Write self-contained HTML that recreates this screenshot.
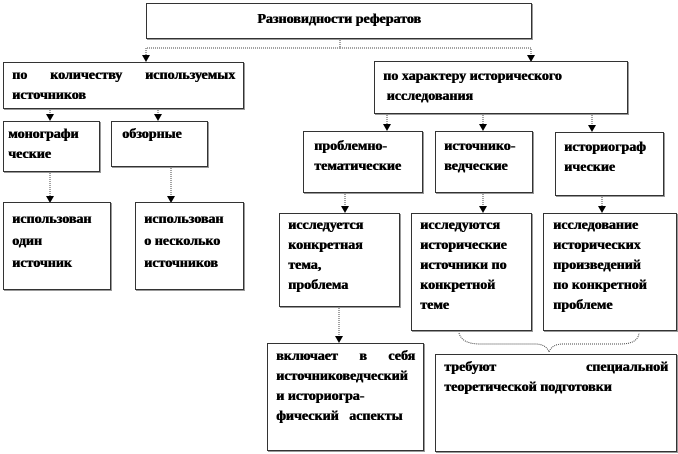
<!DOCTYPE html>
<html><head><meta charset="utf-8"><style>
body{margin:0;width:678px;height:454px;background:#fff;position:relative;overflow:hidden;font-family:"Liberation Serif","DejaVu Serif",serif;font-weight:bold;font-size:14px;color:#000}
.b{position:absolute;box-sizing:border-box;border:1px solid #333;background:#fff;box-shadow:1px 1px 0 #999;padding:6px 8px;line-height:20px;text-shadow:0.6px 0 0 #000;white-space:nowrap}
.j{text-align:justify;text-align-last:left}
.sp{display:flex;justify-content:space-between}
svg{position:absolute;left:0;top:0}
</style></head><body>
<svg width="678" height="454">
<g stroke="#444" stroke-width="1" stroke-dasharray="1,1" fill="none">
<path d="M340 38 V48 H146 V58 M340 48 H531 V58"/>
<path d="M50 108 V116 M158 108 V116"/>
<path d="M50 171 V198 M171 166 V198"/>
<path d="M387 113 V126 M483 113 V126 M592 113 V127"/>
<path d="M345 192 V208 M483 192 V208 M602 195 V208"/>
<path d="M339 306 V338"/>
<path d="M459 333 Q462 344 480 344 L535 344 Q546 344 549 352 Q552 344 563 344 L620 344 Q638 344 639 333"/>
</g>
<g fill="#000">
<path d="M142 55 h8 l-4 7z M527 55 h8 l-4 7z"/>
<path d="M46 114 h8 l-4 7z M154 114 h8 l-4 7z"/>
<path d="M46 196 h8 l-4 7z M167 196 h8 l-4 7z"/>
<path d="M383 124 h8 l-4 7z M479 124 h8 l-4 7z M588 125 h8 l-4 7z"/>
<path d="M341 206 h8 l-4 7z M479 206 h8 l-4 7z M598 206 h8 l-4 7z"/>
<path d="M335 336 h8 l-4 7z"/>
</g>
</svg>
<div class="b" style="left:146px;top:3px;width:386px;height:36px;text-align:center;padding-top:6px">Разновидности рефератов</div>
<div class="b" style="left:3px;top:62px;width:241px;height:47px;padding-top:3px"><div class="sp"><span>по</span><span>количеству</span><span>используемых</span></div>источников</div>
<div class="b" style="left:374px;top:61px;width:254px;height:53px;padding-top:5px">по характеру исторического<br>&nbsp;исследования</div>
<div class="b" style="left:3px;top:121px;width:97px;height:51px;padding:3px 4px">монографи<br>ческие</div>
<div class="b" style="left:111px;top:121px;width:97px;height:46px;padding:3px 10px">обзорные</div>
<div class="b" style="left:3px;top:202px;width:108px;height:88px;padding:6px 8px;line-height:22px">использован<br>один<br>источник</div>
<div class="b" style="left:135px;top:202px;width:109px;height:88px;padding:6px 8px;line-height:22px">использован<br>о несколько<br>источников</div>
<div class="b" style="left:303px;top:131px;width:120px;height:62px;padding:5px 10px">проблемно-<br>тематические</div>
<div class="b" style="left:435px;top:131px;width:98px;height:62px;padding:5px 8px">источнико-<br>ведческие</div>
<div class="b" style="left:555px;top:132px;width:109px;height:64px;padding:5px 8px">историограф<br>ические</div>
<div class="b" style="left:279px;top:213px;width:121px;height:94px;padding:2px 8px">исследуется<br>конкретная<br>тема,<br>проблема</div>
<div class="b" style="left:411px;top:213px;width:121px;height:118px;padding:2px 8px">исследуются<br>исторические<br>источники по<br>конкретной<br>теме</div>
<div class="b" style="left:543px;top:213px;width:134px;height:118px;padding:2px 9px">исследование<br>исторических<br>произведений<br>по конкретной<br>проблеме</div>
<div class="b" style="left:267px;top:343px;width:157px;height:108px;padding:3px 8px"><div class="sp"><span>включает</span><span>в</span><span>себя</span></div>источниковедческий<br>и историогра-<br>фический&nbsp;&nbsp; аспекты</div>
<div class="b" style="left:435px;top:354px;width:242px;height:98px;padding:3px 8px"><div class="sp"><span>требуют</span><span>специальной</span></div>теоретической подготовки</div>
</body></html>
